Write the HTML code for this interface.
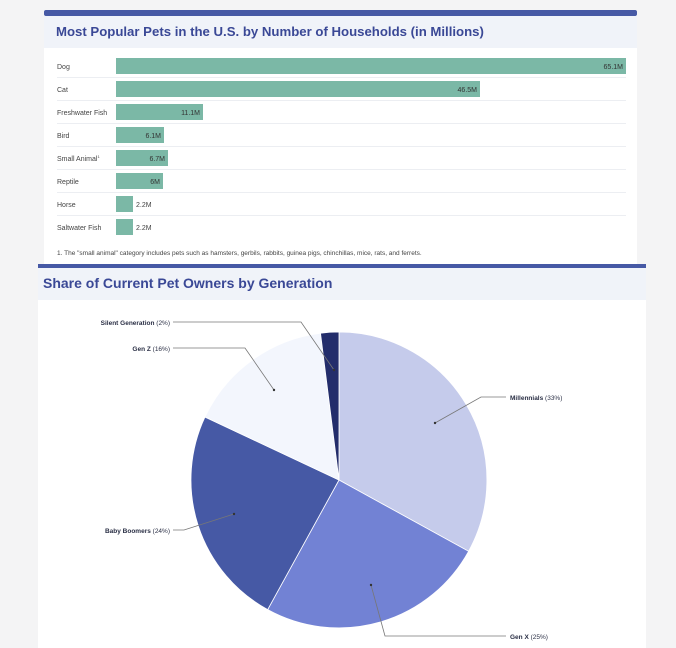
<!DOCTYPE html>
<html><head><meta charset="utf-8"><style>
body{margin:0;width:676px;height:648px;background:#f4f4f5;font-family:"Liberation Sans",sans-serif;overflow:hidden;position:relative}
</style></head><body>
<svg width="676" height="648" style="position:absolute;left:0;top:0" font-family="Liberation Sans, sans-serif">
<rect x="44" y="10" width="593" height="254" fill="#fff"/>
<rect x="44" y="10" width="593" height="6" rx="2" fill="#4659a5"/>
<rect x="44" y="16" width="593" height="32" fill="#f0f3f9"/>
<text x="56" y="36" font-size="13.2" font-weight="bold" fill="#3a4896">Most Popular Pets in the U.S. by Number of Households (in Millions)</text>
<g font-size="7" fill="#444">
<g stroke="#eceef2" stroke-width="1">
<line x1="57" y1="77.5" x2="626" y2="77.5"/><line x1="57" y1="100.5" x2="626" y2="100.5"/><line x1="57" y1="123.5" x2="626" y2="123.5"/><line x1="57" y1="146.5" x2="626" y2="146.5"/><line x1="57" y1="169.5" x2="626" y2="169.5"/><line x1="57" y1="192.5" x2="626" y2="192.5"/><line x1="57" y1="215.5" x2="626" y2="215.5"/>
</g>
<g fill="#7bb8a6">
<rect x="116" y="58" width="510" height="16"/>
<rect x="116" y="81" width="364" height="16"/>
<rect x="116" y="104" width="87" height="16"/>
<rect x="116" y="127" width="48" height="16"/>
<rect x="116" y="150" width="52" height="16"/>
<rect x="116" y="173" width="47" height="16"/>
<rect x="116" y="196" width="17" height="16"/>
<rect x="116" y="219" width="17" height="16"/>
</g>
<text x="57" y="69">Dog</text><text x="57" y="92">Cat</text><text x="57" y="115">Freshwater Fish</text><text x="57" y="138">Bird</text><text x="57" y="161">Small Animal<tspan font-size="4" dy="-3">1</tspan></text><text x="57" y="184">Reptile</text><text x="57" y="207">Horse</text><text x="57" y="230">Saltwater Fish</text>
<g text-anchor="end" fill="#333">
<text x="623" y="69">65.1M</text><text x="477" y="92">46.5M</text><text x="200" y="115">11.1M</text><text x="161" y="138">6.1M</text><text x="165" y="161">6.7M</text><text x="160" y="184">6M</text>
</g>
<text x="136" y="207">2.2M</text><text x="136" y="230">2.2M</text>
<text x="57" y="255" font-size="6.5">1. The "small animal" category includes pets such as hamsters, gerbils, rabbits, guinea pigs, chinchillas, mice, rats, and ferrets.</text>
</g>
<rect x="38" y="264" width="608" height="4" fill="#4659a5"/>
<rect x="38" y="268" width="608" height="32" fill="#f0f3f9"/>
<text x="43" y="288" font-size="14" font-weight="bold" fill="#3a4896">Share of Current Pet Owners by Generation</text>
<rect x="38" y="300" width="608" height="348" fill="#fff"/>
<g stroke="#fff" stroke-width="0.8">
<path d="M339,480 L339,332 A148,148 0 0 1 468.6,551.3 Z" fill="#c5cbeb"/>
<path d="M339,480 L468.6,551.3 A148,148 0 0 1 267.7,609.6 Z" fill="#7282d4"/>
<path d="M339,480 L267.7,609.6 A148,148 0 0 1 205,417 Z" fill="#4659a5"/>
<path d="M339,480 L205,417 A148,148 0 0 1 320.5,333.2 Z" fill="#f3f6fd"/>
<path d="M339,480 L320.5,333.2 A148,148 0 0 1 339,332 Z" fill="#232d6b"/>
</g>
<g stroke="#777" stroke-width="0.8" fill="none">
<polyline points="173,322 301,322 334,370"/>
<polyline points="173,348 245,348 274,390"/>
<polyline points="506,397 481,397 435,423"/>
<polyline points="173,530 184,530 234,514"/>
<polyline points="506,636 385,636 371,585"/>
</g>
<g fill="#333"><circle cx="334" cy="370" r="1.2"/><circle cx="274" cy="390" r="1.2"/><circle cx="435" cy="423" r="1.2"/><circle cx="234" cy="514" r="1.2"/><circle cx="371" cy="585" r="1.2"/></g>
<g font-size="6.5" fill="#2a2f45">
<text x="170" y="325" text-anchor="end"><tspan font-weight="bold">Silent Generation</tspan> (2%)</text>
<text x="170" y="351" text-anchor="end"><tspan font-weight="bold">Gen Z</tspan> (16%)</text>
<text x="170" y="533" text-anchor="end"><tspan font-weight="bold">Baby Boomers</tspan> (24%)</text>
<text x="510" y="400"><tspan font-weight="bold">Millennials</tspan> (33%)</text>
<text x="510" y="639"><tspan font-weight="bold">Gen X</tspan> (25%)</text>
</g>
</svg>
</body></html>
